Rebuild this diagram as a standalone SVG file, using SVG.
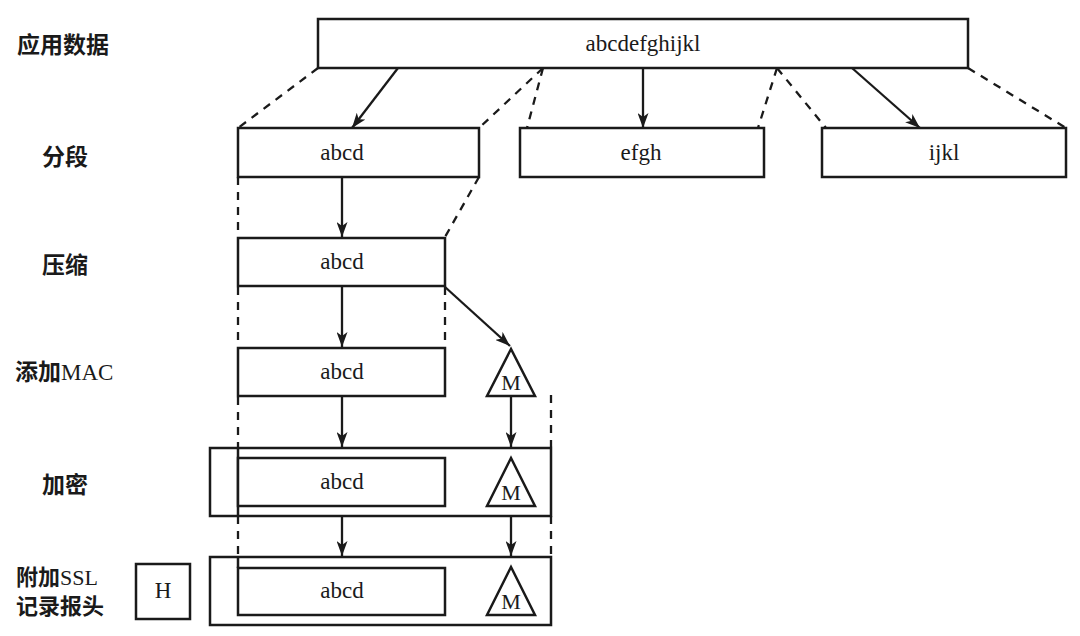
<svg xmlns="http://www.w3.org/2000/svg" width="1080" height="636" viewBox="0 0 1080 636">
<defs>
<style>
.box{fill:#fff;stroke:#1a1a1a;stroke-width:2.5}
.line{fill:none;stroke:#1a1a1a;stroke-width:2.5}
.arr{fill:none;stroke:#1a1a1a;stroke-width:2.3;marker-end:url(#ah)}
.dash{fill:none;stroke:#1a1a1a;stroke-width:2.3;stroke-dasharray:8 7}
.t{font-family:"Liberation Serif","Times New Roman",serif;font-size:23px;fill:#1a1a1a;text-anchor:middle;dominant-baseline:central}
.m{font-size:22px}
.lb{font-family:"Liberation Serif","Noto Sans CJK SC",serif;font-size:23px;fill:#1a1a1a;font-weight:bold}
.sm{font-size:22px}
.cjk{font-family:"Noto Sans CJK SC","Liberation Sans",sans-serif;font-weight:bold}
.lat{font-family:"Liberation Serif","Times New Roman",serif;font-weight:normal}
</style>
<marker id="ah" viewBox="0 0 15 11" refX="15" refY="5.5" markerWidth="15" markerHeight="11" orient="auto" markerUnits="userSpaceOnUse">
<path d="M0,0 L15,5.5 L0,11 L4,5.5 z" fill="#1a1a1a"/>
</marker>
</defs>
<rect width="1080" height="636" fill="#fff"/>

<g id="labels">
<text class="lb" x="17" y="53"><tspan class="cjk">应用数据</tspan></text>
<text class="lb" x="42" y="165"><tspan class="cjk">分段</tspan></text>
<text class="lb" x="42" y="273"><tspan class="cjk">压缩</tspan></text>
<text class="lb" x="15" y="380"><tspan class="cjk">添加</tspan><tspan class="lat">MAC</tspan></text>
<text class="lb" x="42" y="493"><tspan class="cjk">加密</tspan></text>
<text class="lb sm" x="16" y="585"><tspan class="cjk">附加</tspan><tspan class="lat">SSL</tspan></text>
<text class="lb sm" x="16" y="614"><tspan class="cjk">记录报头</tspan></text>
</g>

<g id="connectors">
<line class="arr" x1="398" y1="68" x2="352" y2="128"/>
<line class="arr" x1="643" y1="68" x2="643" y2="128"/>
<line class="arr" x1="852" y1="68" x2="920" y2="128"/>
<line class="dash" x1="318" y1="68" x2="238" y2="128"/>
<line class="dash" x1="543" y1="68" x2="479" y2="128"/>
<line class="dash" x1="543" y1="68" x2="527" y2="128"/>
<line class="dash" x1="777" y1="68" x2="758" y2="128"/>
<line class="dash" x1="777" y1="68" x2="826" y2="128"/>
<line class="dash" x1="968" y1="68" x2="1066" y2="128"/>
<line class="arr" x1="342" y1="177" x2="342" y2="237"/>
<line class="dash" x1="238" y1="177" x2="238" y2="237"/>
<line class="dash" x1="479" y1="177" x2="445" y2="237"/>
<line class="arr" x1="342" y1="287" x2="342" y2="347"/>
<line class="dash" x1="238" y1="287" x2="238" y2="347"/>
<line class="dash" x1="445" y1="287" x2="445" y2="347"/>
<line class="arr" x1="445" y1="287" x2="510" y2="346"/>
<line class="arr" x1="342" y1="397" x2="342" y2="447"/>
<line class="arr" x1="511" y1="397" x2="511" y2="447"/>
<line class="dash" x1="238" y1="397" x2="238" y2="447"/>
<line class="dash" x1="551" y1="395" x2="551" y2="447"/>
<line class="arr" x1="342" y1="516" x2="342" y2="556"/>
<line class="arr" x1="511" y1="516" x2="511" y2="556"/>
<line class="dash" x1="238" y1="516" x2="238" y2="556"/>
<line class="dash" x1="551" y1="516" x2="551" y2="556"/>
</g>

<g id="node-appdata">
<rect class="box" x="318" y="19" width="650" height="49"/>
<text class="t" x="643" y="43">abcdefghijkl</text>
</g>

<g id="node-seg1">
<rect class="box" x="238" y="128" width="241" height="49"/>
<text class="t" x="342" y="152">abcd</text>
</g>
<g id="node-seg2">
<rect class="box" x="520" y="128" width="244" height="49"/>
<text class="t" x="641" y="152">efgh</text>
</g>
<g id="node-seg3">
<rect class="box" x="822" y="128" width="244" height="49"/>
<text class="t" x="944" y="152">ijkl</text>
</g>

<g id="node-compress">
<rect class="box" x="238" y="238" width="207" height="48"/>
<text class="t" x="342" y="261">abcd</text>
</g>

<g id="node-mac">
<rect class="box" x="238" y="348" width="207" height="48"/>
<text class="t" x="342" y="371">abcd</text>
<polygon class="box" points="511,349 487,396 535,396"/>
<text class="t m" x="511" y="382">M</text>
</g>

<g id="node-encrypt">
<rect class="box" x="210" y="448" width="341" height="68"/>
<line class="line" x1="238" y1="448" x2="238" y2="516"/>
<rect class="box" x="238" y="458" width="207" height="48"/>
<text class="t" x="342" y="481">abcd</text>
<polygon class="box" points="511,458 487,506 535,506"/>
<text class="t m" x="511" y="492">M</text>
</g>

<g id="node-header">
<rect class="box" x="136" y="564" width="54" height="55"/>
<text class="t" x="163" y="590">H</text>
</g>

<g id="node-record">
<rect class="box" x="210" y="557" width="341" height="68"/>
<line class="line" x1="238" y1="557" x2="238" y2="568"/>
<rect class="box" x="238" y="568" width="207" height="47"/>
<text class="t" x="342" y="590">abcd</text>
<polygon class="box" points="511,567 487,615 535,615"/>
<text class="t m" x="511" y="601">M</text>
</g>
</svg>
